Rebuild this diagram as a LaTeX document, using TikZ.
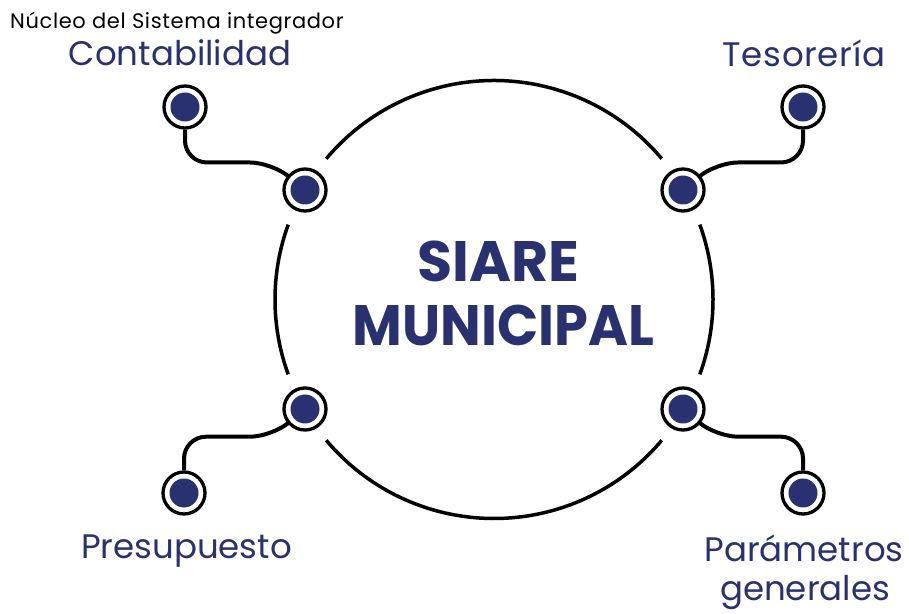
\documentclass[tikz,border=0pt]{standalone}
\usepackage{fontspec}
\setmainfont{Poppins}
\usetikzlibrary{calc}
\definecolor{navy}{RGB}{42,49,112}
\begin{document}
\begin{tikzpicture}[x=1pt,y=1pt,
  port/.style={circle, draw=black, line width=3.3pt, fill=white, minimum size=42pt, inner sep=0pt,
    path picture={\fill[navy] (path picture bounding box.center) circle (14.5pt);}},
  conn/.style={line width=4pt, rounded corners=22pt},
  ring/.style={line width=3.5pt},
  lbl/.style={text=navy, font=\fontsize{34}{40}\selectfont, inner sep=0pt},
  title/.style={text=navy, font=\fontsize{57}{60}\selectfont\bfseries, inner sep=0pt}]
\useasboundingbox (0,0) rectangle (909,613);
\coordinate (C) at (494,313.5);
% main circle arcs
\draw[ring] ($(C)+(40:219)$) arc[start angle=40, end angle=140, radius=219];
\draw[ring] ($(C)+(160:219)$) arc[start angle=160, end angle=200, radius=219];
\draw[ring] ($(C)+(220:219)$) arc[start angle=220, end angle=320, radius=219];
\draw[ring] ($(C)+(-20:219)$) arc[start angle=-20, end angle=20, radius=219];
% ports
\node[port] (i1) at (305,423) {};
\node[port] (i2) at (683,423) {};
\node[port] (i3) at (305,204) {};
\node[port] (i4) at (683,204) {};
\node[port] (o1) at (185,506) {};
\node[port] (o2) at (803,506) {};
\node[port] (o3) at (184,120) {};
\node[port] (o4) at (803,120) {};
% connectors
\draw[conn] (o1) |- (272,450.5) -- (i1);
\draw[conn] (o2) |- (716,450.5) -- (i2);
\draw[conn] (o3) |- (272,176.3) -- (i3);
\draw[conn] (o4) |- (716,176.3) -- (i4);
% texts
\node[anchor=base west, inner sep=0pt, font=\fontsize{21}{24}\selectfont\addfontfeature{LetterSpace=3}] (t0) at (10,584) {Núcleo del Sistema integrador};
\node[lbl, anchor=base] (t1) at (180,547) {Contabilidad};
\node[lbl, anchor=base] (t2) at (804,546) {\addfontfeature{LetterSpace=2}Tesorería};
\node[lbl, anchor=base] (t3) at (186.5,55) {Presupuesto};
\node[lbl, anchor=base] (t4) at (804,52) {Parámetros};
\node[lbl, anchor=base] (t5) at (805,13) {generales};
\node[title, anchor=base] (s1) at (498.5,331) {SIARE};
\node[title, anchor=base, xscale=0.95] (s2) at (503.5,267) {MUNICIPAL};
\end{tikzpicture}
\end{document}
